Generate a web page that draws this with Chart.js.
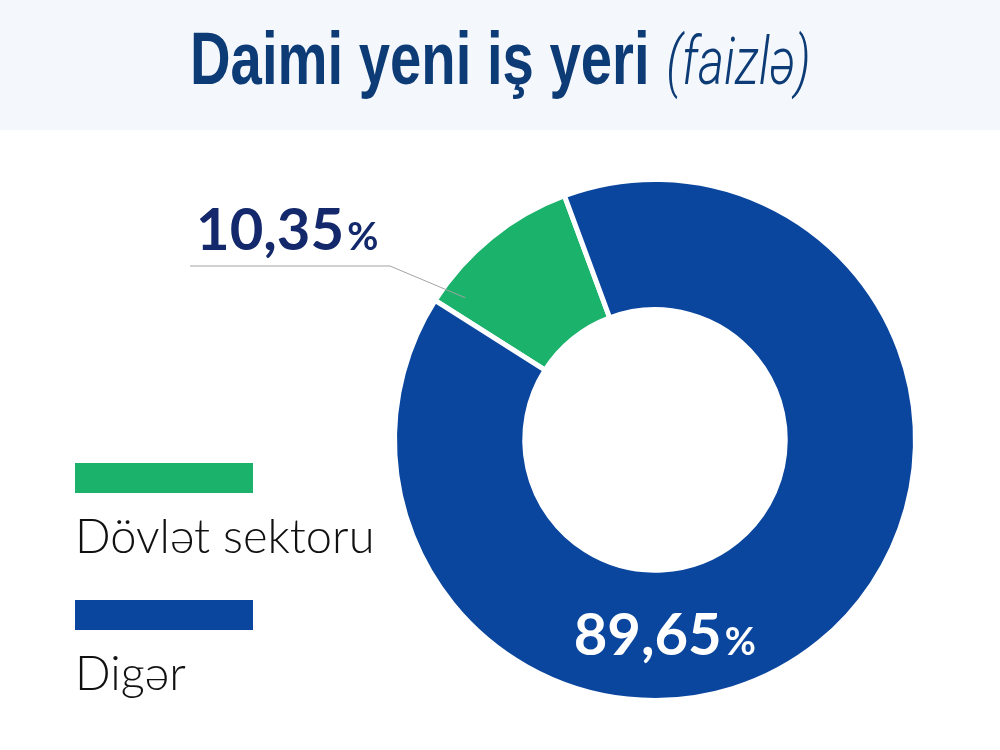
<!DOCTYPE html>
<html>
<head>
<meta charset="utf-8">
<script src="https://cdn.jsdelivr.net/npm/chart.js@4.4.0/dist/chart.umd.min.js"></script>
<style>
  html, body { margin: 0; padding: 0; background: #ffffff; }
  #page { position: relative; width: 1000px; height: 750px; overflow: hidden; }
  #titleBand { position: absolute; left: 0; top: 0; width: 1000px; height: 130px; background: #f4f8fc; }
  #title { position: absolute; left: 0; top: 16px; width: 1000px; text-align: center; white-space: nowrap;
           font-family: "Liberation Sans", sans-serif; color: #0d3b76; }
  #title span.inner { display: inline-block; transform: scaleX(0.76); transform-origin: center; }
  #title .main { font-weight: bold; font-size: 74px; }
  #title .sub { font-family: Roboto, "Liberation Sans", sans-serif; font-style: italic; font-weight: 300; font-size: 66px; margin-left: 22px; }
  #chartBox { position: absolute; left: 0; top: 0; width: 1000px; height: 750px; }
  .legendItem { position: absolute; left: 75px; }
  .legendBar { width: 178px; height: 30px; }
  .legendText { font-family: "Lato", sans-serif; font-weight: 300; font-size: 47px; color: #111; margin-top: 14px; white-space: nowrap; }
</style>
</head>
<body>
<div id="page">
  <div id="titleBand"></div>
  <div id="title"><span class="inner"><span class="main">Daimi yeni iş yeri</span><span class="sub">(faizlə)</span></span></div>
  <div id="chartBox"><canvas id="donut"></canvas></div>
  <div id="legend"></div>
</div>
<script>
const categories = ['Dövlət sektoru', 'Digər'];
const shares = [10.35, 89.65];
const shareLabels = ['10,35', '89,65'];
const sliceColors = ['#1bb26b', '#0b469e'];

// legend on the left
const legend = document.getElementById('legend');
const legendTops = [463, 600];
categories.forEach((name, i) => {
    const item = document.createElement('div');
    item.className = 'legendItem';
    item.style.top = legendTops[i] + 'px';
    const bar = document.createElement('div');
    bar.className = 'legendBar';
    bar.style.background = sliceColors[i];
    const text = document.createElement('div');
    text.className = 'legendText';
    text.textContent = name;
    item.appendChild(bar);
    item.appendChild(text);
    legend.appendChild(item);
});

// percentage labels drawn on the canvas
const percentLabels = {
    id: 'percentLabels',
    afterDatasetsDraw(chart) {
        const ctx = chart.ctx;
        const arcs = chart.getDatasetMeta(0).data;

        // green slice: outside label with leader line
        const g = arcs[0];
        const a = g.startAngle + 0.12 * (g.endAngle - g.startAngle);
        const r = g.outerRadius * 0.91;
        const px = g.x + Math.cos(a) * r;
        const py = g.y + Math.sin(a) * r;
        ctx.save();
        ctx.strokeStyle = '#a3a3a3';
        ctx.lineWidth = 1;
        ctx.beginPath();
        ctx.moveTo(190, 266);
        ctx.lineTo(390, 266);
        ctx.lineTo(px, py);
        ctx.stroke();

        ctx.textBaseline = 'alphabetic';
        ctx.textAlign = 'left';
        ctx.fillStyle = '#14296b';
        ctx.font = 'bold 58px Lato, sans-serif';
        ctx.fillText(shareLabels[0], 196, 250);
        let w = ctx.measureText(shareLabels[0]).width;
        ctx.font = 'bold 38px Lato, sans-serif';
        ctx.fillText('%', 196 + w + 3, 250);

        // blue slice: label inside the ring near the bottom
        const b = arcs[1];
        const ang = Math.PI / 2 - 0.05;
        const rm = (b.innerRadius + b.outerRadius) / 2;
        const cx = b.x + Math.cos(ang) * rm;
        const cy = b.y + Math.sin(ang) * rm;
        ctx.fillStyle = '#ffffff';
        ctx.font = 'bold 58px Lato, sans-serif';
        w = ctx.measureText(shareLabels[1]).width;
        ctx.font = 'bold 38px Lato, sans-serif';
        const wp = ctx.measureText('%').width;
        const sx = cx - (w + wp + 3) / 2;
        ctx.font = 'bold 58px Lato, sans-serif';
        ctx.fillText(shareLabels[1], sx, cy + 20);
        ctx.font = 'bold 38px Lato, sans-serif';
        ctx.fillText('%', sx + w + 3, cy + 20);
        ctx.restore();
    }
};

const ctx = document.getElementById('donut').getContext('2d');
new Chart(ctx, {
    type: 'doughnut',
    data: {
        labels: categories,
        datasets: [{
            data: shares,
            backgroundColor: sliceColors,
            borderColor: '#ffffff',
            borderWidth: 5,
            hoverOffset: 0
        }]
    },
    options: {
        responsive: true,
        maintainAspectRatio: false,
        animation: false,
        rotation: -57.6,
        cutout: '50%',
        layout: {
            padding: { left: 392, right: 82, top: 177, bottom: 47 }
        },
        plugins: {
            legend: { display: false },
            tooltip: { enabled: false }
        }
    },
    plugins: [percentLabels]
});
</script>
</body>
</html>
